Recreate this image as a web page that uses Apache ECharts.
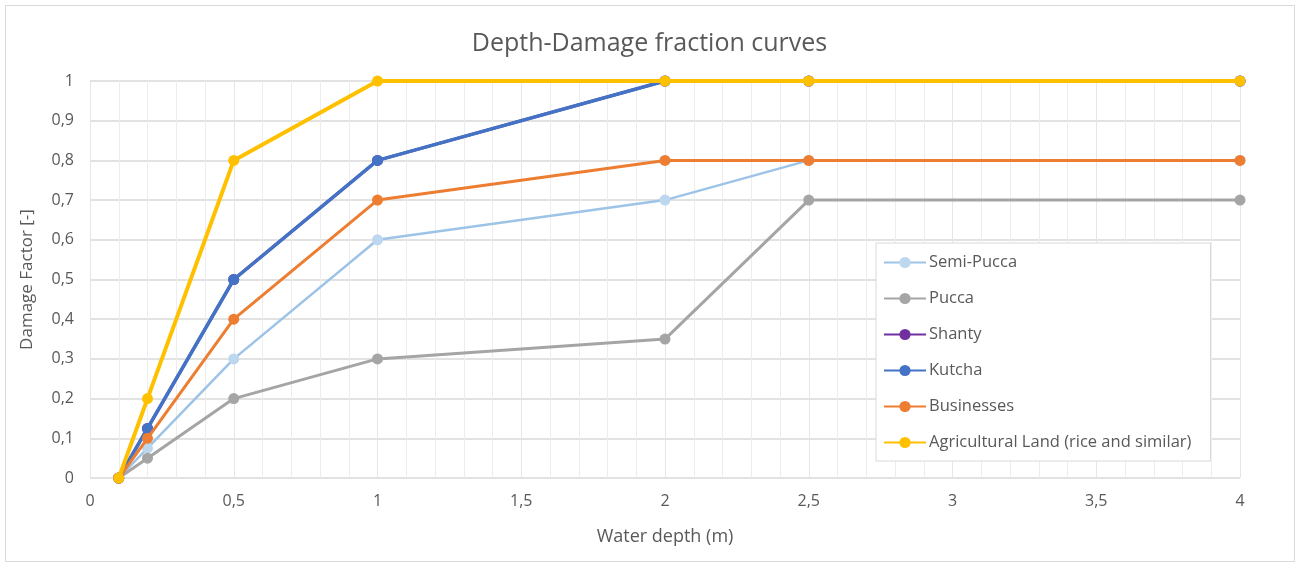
<!DOCTYPE html>
<html>
<head>
<meta charset="utf-8">
<script src="https://cdn.jsdelivr.net/npm/echarts@6/dist/echarts.min.js"></script>
<style>
  html, body { margin: 0; padding: 0; background: #ffffff; }
  #chart { width: 1299px; height: 566px; }
</style>
</head>
<body>
<div id="chart"></div>
<script>
// Water depths (m) at which each damage fraction is given
const depths = [0.1, 0.2, 0.5, 1, 2, 2.5, 4];

// Damage fraction per building / land-use type
const semiPucca = [0, 0.075, 0.3, 0.6, 0.7, 0.8, 0.8];
const pucca = [0, 0.05, 0.2, 0.3, 0.35, 0.7, 0.7];
const shanty = [0, 0.125, 0.5, 0.8, 1, 1, 1];
const kutcha = [0, 0.125, 0.5, 0.8, 1, 1, 1];
const businesses = [0, 0.1, 0.4, 0.7, 0.8, 0.8, 0.8];
const agricultural = [0, 0.2, 0.8, 1, 1, 1, 1];

const seriesNames = ['Semi-Pucca', 'Pucca', 'Shanty', 'Kutcha', 'Businesses', 'Agricultural Land (rice and similar)'];
const seriesValues = [semiPucca, pucca, shanty, kutcha, businesses, agricultural];
const seriesColors = ['#9DC3E6', '#A5A5A5', '#7030A0', '#4472C4', '#ED7D31', '#FFC000'];
const markerColors = ['#BDD7EE', '#A5A5A5', '#7030A0', '#4472C4', '#ED7D31', '#FFC000'];
const lineWidths = [2.5, 3, 3, 3.5, 3, 4];

const FONT = '"Open Sans", "Liberation Sans", sans-serif';
const TEXT = '#595959';
const comma = v => String(+v.toFixed(2)).replace('.', ',');

const chart = echarts.init(document.getElementById('chart'), null, { renderer: 'canvas' });

chart.setOption({
  backgroundColor: '#ffffff',
  animation: false,
  textStyle: { fontFamily: FONT, color: TEXT },
  title: {
    text: 'Depth-Damage fraction curves',
    left: 'center',
    top: 26,
    textStyle: { fontFamily: FONT, fontSize: 25, fontWeight: 'normal', color: TEXT }
  },
  graphic: [{
    type: 'rect',
    z: -10,
    shape: { x: 5.5, y: 5.5, width: 1289, height: 556 },
    style: { fill: 'none', stroke: '#d9d9d9', lineWidth: 1 }
  }],
  grid: { left: 90, right: 59, top: 81, bottom: 88 },
  legend: {
    orient: 'vertical',
    left: 876,
    top: 243,
    padding: [11, 19, 10, 7],
    itemGap: 19,
    itemWidth: 42,
    itemHeight: 14,
    borderColor: '#d9d9d9',
    borderWidth: 1,
    backgroundColor: '#ffffff',
    textStyle: { fontFamily: FONT, fontSize: 16.5, color: TEXT, padding: [0, 0, 0, -2] },
    data: seriesNames
  },
  xAxis: {
    type: 'value',
    min: 0,
    max: 4,
    interval: 0.5,
    name: 'Water depth (m)',
    nameLocation: 'middle',
    nameGap: 50,
    nameTextStyle: { fontFamily: FONT, fontSize: 18, color: TEXT },
    axisLine: { show: false },
    axisTick: { show: false },
    axisLabel: { fontFamily: FONT, fontSize: 16, color: TEXT, margin: 15, formatter: comma },
    splitLine: { show: true, lineStyle: { color: '#e6e6e6', width: 1 } },
    minorTick: { show: false, splitNumber: 5 },
    minorSplitLine: { show: true, lineStyle: { color: '#ededed', width: 1 } }
  },
  yAxis: {
    type: 'value',
    min: 0,
    max: 1,
    interval: 0.1,
    name: 'Damage Factor [-]',
    nameLocation: 'middle',
    nameGap: 54,
    nameTextStyle: { fontFamily: FONT, fontSize: 17, color: TEXT },
    axisLine: { show: false },
    axisTick: { show: false },
    axisLabel: { fontFamily: FONT, fontSize: 16, color: TEXT, margin: 16, formatter: comma },
    splitLine: { show: true, lineStyle: { color: '#d9d9d9', width: 1.5 } }
  },
  series: seriesNames.map((name, i) => ({
    name: name,
    type: 'line',
    data: depths.map((d, j) => [d, seriesValues[i][j]]),
    symbol: 'circle',
    symbolSize: 11,
    showAllSymbol: true,
    lineStyle: { color: seriesColors[i], width: lineWidths[i] },
    itemStyle: { color: markerColors[i] },
    emphasis: { disabled: true },
    z: 2 + i
  }))
});
</script>
</body>
</html>
